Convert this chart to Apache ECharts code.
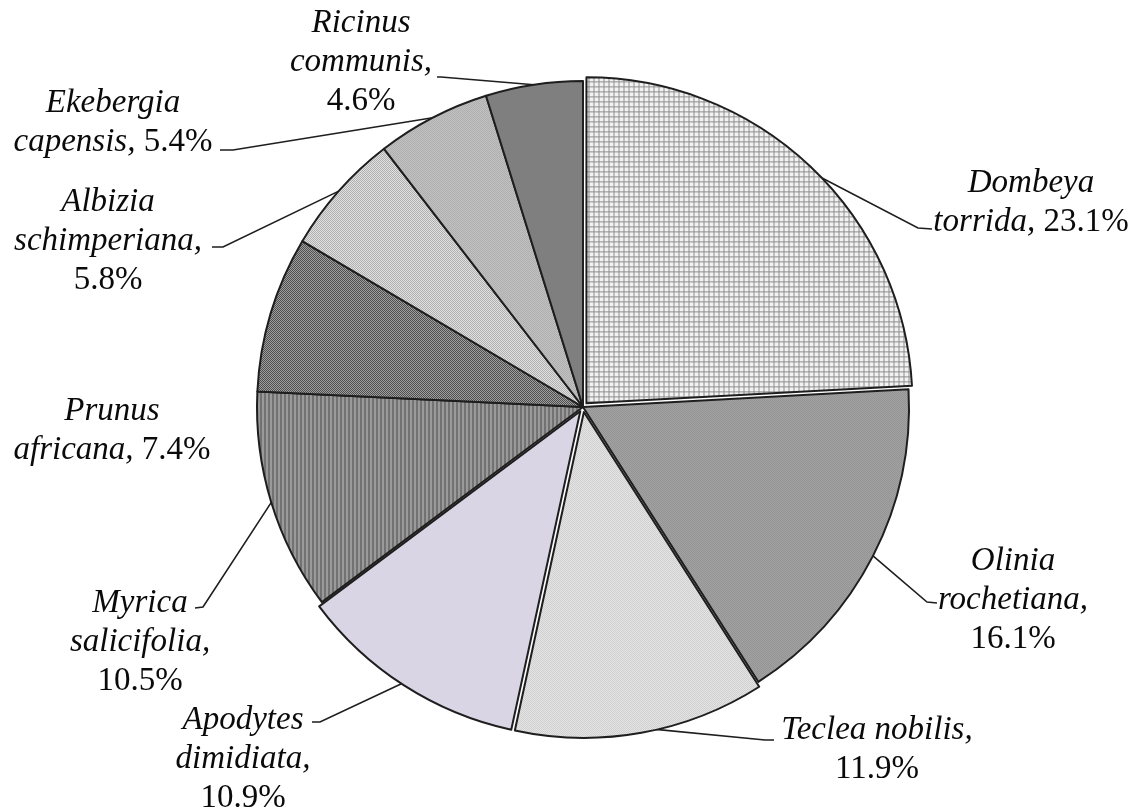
<!DOCTYPE html>
<html>
<head>
<meta charset="utf-8">
<style>html,body{margin:0;padding:0;background:#fff;}#chart{width:1133px;height:812px;}</style>
<script src="https://cdn.jsdelivr.net/npm/echarts@6/dist/echarts.min.js"></script>
</head>
<body>
<div id="chart"></div>
<script>
// ---- data ----
const genus   = ['Dombeya', 'Olinia', 'Teclea', 'Apodytes', 'Myrica', 'Prunus', 'Albizia', 'Ekebergia', 'Ricinus'];
const species = ['torrida', 'rochetiana', 'nobilis', 'dimidiata', 'salicifolia', 'africana', 'schimperiana', 'capensis', 'communis'];
const values  = [23.1, 16.1, 11.9, 10.9, 10.5, 7.4, 5.8, 5.4, 4.6];

// ---- layout / style (not data) ----
// label wrap mode: a = genus / species, / value ; b = genus / species, value ; c = genus species, / value
const wrapMode = ['b', 'a', 'c', 'a', 'a', 'b', 'a', 'b', 'a'];
const labelPos = [[1031, 203], [1013, 600], [877, 750], [243, 759], [140, 642], [112, 431], [108, 241], [113, 123], [361, 62]];
const leaderTail = [
  [[918, 228], [932, 229]],
  [[927, 602], [937, 603]],
  [[765, 740], [774, 740]],
  [[320, 722], [312, 722]],
  [[203, 607], [195, 608]],
  null,
  [[223, 247], [212, 247]],
  [[233, 150], [220, 150]],
  [[441, 77], [437, 77]]
];
const exploded = [true, false, true, true, false, false, false, false, false];

function pat(w, h, draw) {
  const c = document.createElement('canvas');
  c.width = w; c.height = h;
  const g = c.getContext('2d');
  draw(g);
  return { image: c, repeat: 'repeat' };
}
function checker(a, b) {
  return pat(2, 2, g => { g.fillStyle = a; g.fillRect(0, 0, 2, 2); g.fillStyle = b; g.fillRect(0, 0, 1, 1); g.fillRect(1, 1, 1, 1); });
}
const fills = [
  pat(5, 5, g => { g.fillStyle = '#f2f2f2'; g.fillRect(0, 0, 5, 5); g.fillStyle = '#8e8e8e'; g.fillRect(0, 0, 5, 1); g.fillRect(0, 0, 1, 5); }),
  checker('#a2a2a2', '#949494'),
  checker('#e8e8e8', '#cdcdcd'),
  '#dad5e5',
  pat(4, 1, g => { g.fillStyle = '#9a9a9a'; g.fillRect(0, 0, 4, 1); g.fillStyle = '#727272'; g.fillRect(0, 0, 2, 1); }),
  checker('#a0a0a0', '#4e4e4e'),
  checker('#e0e0e0', '#b0b0b0'),
  checker('#c0c0c0', '#b0b0b0'),
  '#7f7f7f'
];

const FONT = '"Liberation Serif", "Times New Roman", serif';
const txt = { fontFamily: FONT, fontSize: 33, lineHeight: 39, color: '#0a0a0a' };

const chart = echarts.init(document.getElementById('chart'), null, { renderer: 'canvas' });

const CENTER = [583, 407];
const R = 326;

const pieData = values.map((v, i) => ({
  name: genus[i] + ' ' + species[i],
  value: v,
  selected: exploded[i],
  itemStyle: { color: fills[i] }
}));
const labelData = values.map((v, i) => ({
  name: genus[i] + ' ' + species[i],
  value: v,
  labelLine: { show: leaderTail[i] !== null }
}));

chart.setOption({
  animation: false,
  backgroundColor: '#fff',
  series: [{
    type: 'pie',
    center: CENTER,
    radius: R,
    startAngle: 90,
    clockwise: true,
    selectedMode: 'multiple',
    selectedOffset: 5,
    data: pieData,
    itemStyle: { borderColor: '#1e1e1e', borderWidth: 2 },
    emphasis: { disabled: true },
    select: { itemStyle: { borderColor: '#1e1e1e', borderWidth: 2 } },
    label: { show: false },
    labelLine: { show: false }
  }, {
    type: 'pie',
    center: CENTER,
    radius: R,
    startAngle: 90,
    clockwise: true,
    silent: true,
    avoidLabelOverlap: false,
    data: labelData,
    itemStyle: { color: 'rgba(0,0,0,0)', borderWidth: 0 },
    emphasis: { disabled: true },
    label: {
      show: true,
      position: 'outside',
      formatter: p => {
        const i = p.dataIndex;
        const val = values[i].toFixed(1) + '%';
        const m = wrapMode[i];
        if (m === 'a') return '{i|' + genus[i] + '}\n{i|' + species[i] + ',}\n{n|' + val + '}';
        if (m === 'b') return '{i|' + genus[i] + '}\n{i|' + species[i] + ', }{n|' + val + '}';
        return '{i|' + genus[i] + ' ' + species[i] + ',}\n{n|' + val + '}';
      },
      rich: {
        i: Object.assign({ fontStyle: 'italic' }, txt),
        n: Object.assign({ fontStyle: 'normal' }, txt)
      }
    },
    labelLine: { show: true, smooth: false, length: 20, length2: 10, lineStyle: { color: '#1e1e1e', width: 1.6 } },
    labelLayout: function (params) {
      const i = params.dataIndex;
      const res = { x: labelPos[i][0], y: labelPos[i][1], align: 'center', verticalAlign: 'middle' };
      if (leaderTail[i] && params.labelLinePoints) {
        res.labelLinePoints = [params.labelLinePoints[0], leaderTail[i][0], leaderTail[i][1]];
      }
      return res;
    }
  }]
});
</script>
</body>
</html>
